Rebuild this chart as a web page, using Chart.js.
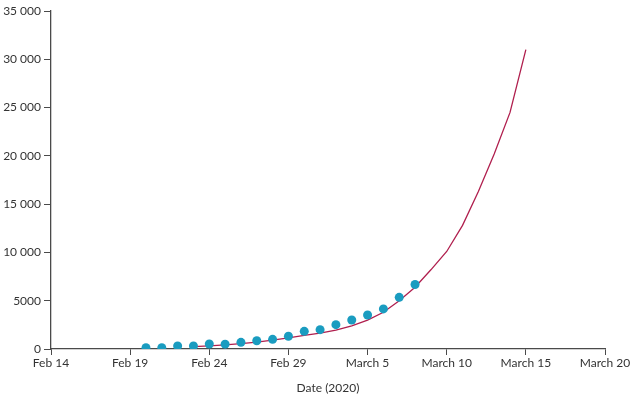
<!DOCTYPE html>
<html>
<head>
<meta charset="utf-8">
<script src="https://cdn.jsdelivr.net/npm/chart.js@4.4.1/dist/chart.umd.min.js"></script>
<style>
  html, body { margin: 0; padding: 0; background: #fff; }
  #wrap { width: 637px; height: 399px; }
</style>
</head>
<body>
<div id="wrap"><canvas id="myChart" width="637" height="399"></canvas></div>
<script>
// days counted from Feb 14, 2020
var tickDays = [0, 5, 10, 15, 20, 25, 30, 35];
var tickLabels = ['Feb 14', 'Feb 19', 'Feb 24', 'Feb 29', 'March 5', 'March 10', 'March 15', 'March 20'];

// observed cases, one per day from Feb 20
var observedStart = 6;
var observedValues = [130, 130, 310, 310, 520, 500, 690, 860, 1000, 1320, 1830, 2000, 2520, 3000, 3520, 4150, 5350, 6680];

// fitted curve, one per day from Feb 23
var fitStart = 9;
var fitValues = [250, 330, 420, 560, 720, 920, 1150, 1400, 1650, 1950, 2400, 3000, 3800, 5000, 6400, 8200, 10100, 12800, 16300, 20200, 24500, 31000];

var yTicks = [0, 5000, 10000, 15000, 20000, 25000, 30000, 35000];

var colorSet = {
	line: '#b01f4e',
	dots: '#1a9cc0',
	axis: '#4a4a4a',
	text: '#333333'
};

var observed = observedValues.map(function(v, i) { return { x: observedStart + i, y: v }; });
var fit = fitValues.map(function(v, i) { return { x: fitStart + i, y: v }; });

function fmt(v) {
	var s = String(v);
	if (s.length > 4) {
		s = s.slice(0, s.length - 3) + ' ' + s.slice(-3);
	}
	return s;
}

Chart.defaults.font.family = 'Lato, "Open Sans", sans-serif';
Chart.defaults.font.size = 12;
Chart.defaults.color = colorSet.text;

var ctx = document.getElementById('myChart').getContext('2d');
var myChart = new Chart(ctx, {
	type: 'scatter',
	data: {
		datasets: [
			{
				label: 'Fit',
				type: 'line',
				data: fit,
				borderColor: colorSet.line,
				borderWidth: 1.3,
				pointRadius: 0,
				tension: 0,
				fill: false,
				order: 2
			},
			{
				label: 'Observed',
				data: observed,
				backgroundColor: colorSet.dots,
				borderWidth: 0,
				pointRadius: 4.5,
				order: 1
			}
		]
	},
	options: {
		responsive: false,
		animation: false,
		layout: { padding: { top: 11, right: 32, left: 0, bottom: 0 } },
		plugins: {
			legend: { display: false },
			tooltip: { enabled: false }
		},
		scales: {
			x: {
				type: 'linear',
				min: 0,
				max: 35,
				afterBuildTicks: function(scale) {
					scale.ticks = tickDays.map(function(d) { return { value: d }; });
				},
				afterFit: function(scale) { scale.height = 50; },
				ticks: {
					autoSkip: false,
					maxRotation: 0,
					padding: 1,
					callback: function(value) {
						var i = tickDays.indexOf(value);
						return i >= 0 ? tickLabels[i] : '';
					}
				},
				grid: {
					drawOnChartArea: false,
					drawTicks: true,
					tickLength: 6,
					color: colorSet.axis
				},
				border: { color: colorSet.axis, width: 1.3 },
				title: {
					display: true,
					text: 'Date (2020)',
					padding: { top: 4 }
				}
			},
			y: {
				min: 0,
				max: 35000,
				afterBuildTicks: function(scale) {
					scale.ticks = yTicks.map(function(v) { return { value: v }; });
				},
				afterFit: function(scale) { scale.width = 51; },
				ticks: {
					padding: 3,
					callback: function(value) { return fmt(value); }
				},
				grid: {
					drawOnChartArea: false,
					drawTicks: true,
					tickLength: 7,
					color: colorSet.axis
				},
				border: { color: colorSet.axis, width: 1.3 }
			}
		}
	}
});
</script>
</body>
</html>
